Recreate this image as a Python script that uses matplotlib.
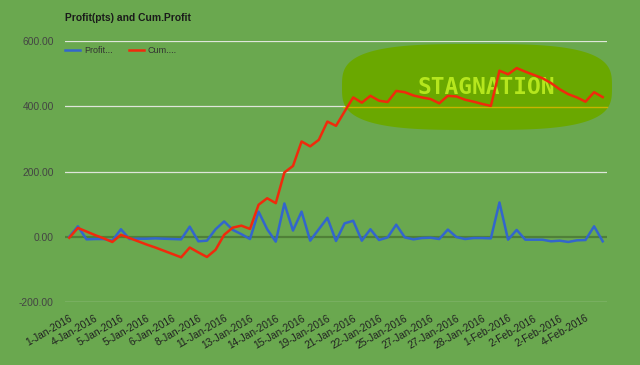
import numpy as np
import matplotlib
matplotlib.use('Agg')
import matplotlib.pyplot as plt
from matplotlib.patches import Polygon

plt.rcParams['font.family'] = ['Liberation Sans', 'DejaVu Sans']

# ---- data ----
tick_labels = ['1-Jan-2016', '4-Jan-2016', '5-Jan-2016', '5-Jan-2016', '6-Jan-2016',
               '8-Jan-2016', '11-Jan-2016', '13-Jan-2016', '14-Jan-2016', '15-Jan-2016',
               '19-Jan-2016', '21-Jan-2016', '22-Jan-2016', '25-Jan-2016', '27-Jan-2016',
               '27-Jan-2016', '28-Jan-2016', '1-Feb-2016', '2-Feb-2016', '2-Feb-2016',
               '4-Feb-2016']

profit = [0, 32, -8, -7, -7, -12, 23, -7, -6, -6,
          -5, -6, -7, -8, 31, -14, -12, 23, 47, 21,
          8, -7, 77, 23, -15, 102, 19, 77, -12, 23,
          58, -13, 41, 49, -12, 23, -10, -2, 37, -2,
          -8, -4, -3, -7, 22, -1, -7, -4, -4, -5,
          105, -9, 21, -9, -9, -9, -14, -12, -16, -11,
          -10, 32, -14]

cum_profit = [-3, 27, 16, 5, -5, -16, 6, -4, -14, -24,
              -33, -43, -53, -63, -33, -48, -62, -40, 6, 28,
              34, 24, 98, 118, 103, 197, 217, 292, 277, 297,
              353, 340, 384, 427, 411, 432, 417, 413, 447, 443,
              433, 427, 422, 409, 432, 430, 420, 414, 407, 401,
              509, 498, 517, 506, 496, 486, 471, 452, 437, 427,
              414, 443, 428]

y_ticks = [-200, 0, 200, 400, 600]

# ---- colours ----
BG = '#6aa84f'
BLUE = '#3366cc'
RED = '#f02a0c'
BLOB = '#6aa800'
LIME = '#b5e61d'

W, H = 640, 365
fig = plt.figure(figsize=(W / 100, H / 100), dpi=100)
fig.patch.set_facecolor(BG)
ax = fig.add_axes([65 / W, 1 - 302 / H, 542 / W, 261 / H])
ax.set_facecolor(BG)
for s in ax.spines.values():
    s.set_visible(False)

x = np.arange(len(profit))
ax.set_xlim(-0.5, len(profit) - 0.5)
ax.set_ylim(-200, 600)

# gridlines
for v in y_ticks:
    if v == 0:
        ax.axhline(v, color='#4f8038', lw=1.6, zorder=2.7)
    else:
        ax.axhline(v, color='#dfe6da', lw=0.9, zorder=1)

# "stagnation" highlight blob (figure pixel coords)
cx, cy, a, b, n = 477, 87, 135, 43, 3.2
t = np.linspace(0, 2 * np.pi, 240)
px = cx + a * np.sign(np.cos(t)) * np.abs(np.cos(t)) ** (2 / n)
py = cy + b * np.sign(np.sin(t)) * np.abs(np.sin(t)) ** (2 / n)
blob = Polygon(np.column_stack([px / W, 1 - py / H]), closed=True,
               facecolor=BLOB, edgecolor='none', transform=fig.transFigure,
               zorder=2, clip_on=False)
ax.add_patch(blob)
ax.plot([343 / W, 607 / W], [1 - 106.5 / H, 1 - 106.5 / H], color='#c8b400',
        lw=1.0, transform=fig.transFigure, zorder=2.5, clip_on=False)
ax.text(486 / W, 1 - 87 / H, 'STAGNATION', transform=fig.transFigure,
        fontfamily='DejaVu Sans Mono', fontsize=16.5, fontweight='bold',
        color=LIME, ha='center', va='center', zorder=2.6)

# series
ax.plot(x, profit, color=BLUE, lw=1.8, zorder=3, label='Profit...')
ax.plot(x, cum_profit, color=RED, lw=1.8, zorder=4, label='Cum....')

# axes ticks
ax.set_yticks(y_ticks)
ax.set_yticklabels(['%.2f' % v for v in y_ticks], fontsize=7.4, color='#444444')
ax.tick_params(axis='y', length=0, pad=8)
ax.set_xticks(x[::3])
ax.set_xticklabels(tick_labels, fontsize=7.4, color='#222222', rotation=30,
                   ha='right', rotation_mode='anchor')
ax.tick_params(axis='x', length=0, pad=8)

# title and legend
fig.text(65 / W, 1 - 18 / H, 'Profit(pts) and Cum.Profit', fontsize=7.4,
         fontweight='bold', color='#1a1a1a', ha='left', va='center')
ax.legend(loc='upper left', bbox_to_anchor=(0, 0.98), ncol=2, frameon=False,
          fontsize=6.5, handlelength=1.7, handletextpad=0.4, columnspacing=1.8,
          borderaxespad=0, borderpad=0, labelcolor='#333333')

fig.savefig('out.png', dpi=100, facecolor=BG)
